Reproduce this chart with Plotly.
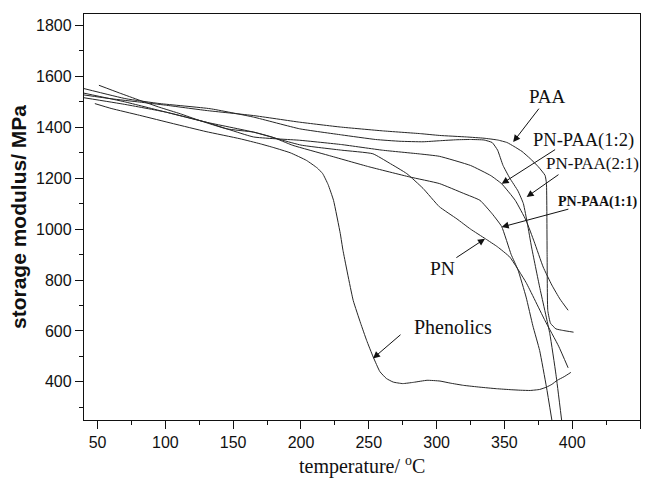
import plotly.graph_objects as go

# ---- data ----
paa_t = [40, 60, 81, 100, 130, 165, 199, 229, 260, 288, 302, 322, 335, 345, 352, 357, 363, 369, 375, 380, 381, 381.5, 382, 384, 388, 393, 401]
paa_e = [1527, 1512, 1499, 1487, 1466, 1446, 1420, 1401, 1386, 1375, 1368, 1362, 1357, 1350, 1340, 1325, 1305, 1277, 1245, 1211, 1180, 900, 680, 630, 608, 602, 595]

pn_paa_21_t = [40, 71, 96, 133, 165, 199, 230, 255, 273, 290, 302, 315, 325, 335, 341, 345, 349, 354, 360, 364, 367, 370, 376, 383.5, 388, 392.2]
pn_paa_21_e = [1552, 1512, 1493, 1473, 1440, 1394, 1370, 1352, 1345, 1343, 1347, 1351, 1352, 1350, 1340, 1310, 1250, 1200, 1150, 1100, 1020, 930, 772, 589, 430, 250]

pn_paa_12_t = [40, 70, 100, 130, 165, 199, 230, 260, 288, 302, 325, 340, 348, 358, 366, 372, 378.6, 385, 391, 397]
pn_paa_12_e = [1516, 1490, 1460, 1420, 1362, 1349, 1332, 1310, 1295, 1286, 1250, 1210, 1178, 1113, 1034, 950, 851, 780, 725, 681]

pn_paa_11_t = [51, 66, 81, 96, 111, 125, 145, 165, 179, 194, 220, 250, 280, 302, 320, 332, 341, 348, 355, 360, 366, 371, 376, 381, 385]
pn_paa_11_e = [1565, 1535, 1506, 1478, 1453, 1427, 1394, 1381, 1361, 1329, 1290, 1245, 1205, 1179, 1140, 1113, 1060, 1010, 900, 840, 733, 620, 523, 380, 250]

pn_t = [40, 70, 100, 130, 165, 200, 230, 253, 265, 278, 290, 302, 315, 325, 336, 345, 354, 366, 380, 390, 397]
pn_e = [1534, 1500, 1460, 1420, 1381, 1330, 1310, 1296, 1260, 1218, 1160, 1088, 1040, 1000, 962, 930, 890, 790, 640, 540, 455]

phen_t = [48, 60, 81, 106, 130, 155, 170, 180, 192, 204, 212, 216, 220, 224, 229, 231, 238.5, 244, 248.4, 253.3, 258.2, 263, 268, 275, 283, 293, 302.5, 310, 320, 332, 344, 355, 362, 369, 376, 381, 385, 389, 394, 399]
phen_e = [1493, 1474, 1447, 1414, 1383, 1355, 1335, 1320, 1300, 1270, 1240, 1218, 1175, 1113, 982, 916, 720, 630, 563, 497, 440, 413, 399, 393, 398, 406, 403, 395, 386, 379, 373, 369, 367, 366, 370, 379, 390, 406, 420, 437]

x_ticks = [50, 100, 150, 200, 250, 300, 350, 400, 450]
y_ticks = [400, 600, 800, 1000, 1200, 1400, 1600, 1800]

series = [
    (paa_t, paa_e), (pn_paa_21_t, pn_paa_21_e), (pn_paa_12_t, pn_paa_12_e),
    (pn_paa_11_t, pn_paa_11_e), (pn_t, pn_e), (phen_t, phen_e),
]

fig = go.Figure()
for t, e in series:
    fig.add_trace(go.Scatter(x=t, y=e, mode="lines",
                             line=dict(color="#262626", width=1, shape="spline", smoothing=0.4),
                             showlegend=False, hoverinfo="skip"))

serif = "Liberation Serif, Times New Roman, serif"
sans = "Liberation Sans, Arial, sans-serif"

# arrows: (tip_x, tip_y, tail_x, tail_y)
arrows = [
    (356.5, 1342, 376.3, 1479),
    (348, 1178, 388.5, 1316),
    (366.4, 1126, 391, 1218),
    (348, 1008, 398.3, 1080),
    (335.7, 962, 313.5, 884),
    (253.1, 492, 274.5, 590),
]
for tx, ty, ax, ay in arrows:
    fig.add_annotation(x=tx, y=ty, ax=ax, ay=ay, xref="x", yref="y", axref="x", ayref="y",
                       text="", showarrow=True, arrowhead=2, arrowsize=1.4, arrowwidth=1,
                       arrowcolor="#111", standoff=0, startstandoff=0)

labels = [
    ("PAA", 382.1, 1521, 19),
    ("PN-PAA(1:2)", 408.7, 1348, 18.5),
    ("PN-PAA(2:1)", 415.3, 1256, 17),
    ("<b>PN-PAA(1:1)</b>", 419, 1105, 14),
    ("PN", 304, 845, 19.5),
    ("Phenolics", 312, 614, 20),
]
for txt, x, y, sz in labels:
    fig.add_annotation(x=x, y=y, xref="x", yref="y", text=txt, showarrow=False,
                       xanchor="center", yanchor="middle",
                       font=dict(family=serif, size=sz, color="#111"))

fig.add_annotation(x=0.5, y=-0.113, xref="paper", yref="paper", xanchor="center", yanchor="middle",
                   text="temperature/ <sup>o</sup>C", showarrow=False,
                   font=dict(family=serif, size=20, color="#111"))
fig.add_annotation(x=-0.1187, y=0.5, xref="paper", yref="paper", xanchor="center", yanchor="middle",
                   textangle=-90, text="<b>storage modulus/ MPa</b>", showarrow=False,
                   font=dict(family=sans, size=21, color="#111"))

fig.update_layout(
    width=652, height=487,
    margin=dict(l=84, r=12, t=14, b=67),
    paper_bgcolor="white", plot_bgcolor="white",
    xaxis=dict(range=[40, 450], tickvals=x_ticks, ticks="outside", ticklen=8, tickwidth=1,
               tickcolor="#111", showline=True, linecolor="#111", linewidth=1.3, mirror=True,
               showgrid=False, zeroline=False,
               tickfont=dict(family=sans, size=16, color="#111"),
               minor=dict(dtick=25, tick0=25, ticks="outside", ticklen=4, tickcolor="#111")),
    yaxis=dict(range=[250, 1845], tickvals=y_ticks, ticks="outside", ticklen=8, tickwidth=1,
               tickcolor="#111", showline=True, linecolor="#111", linewidth=1.3, mirror=True,
               showgrid=False, zeroline=False,
               tickfont=dict(family=sans, size=16, color="#111"),
               minor=dict(dtick=100, tick0=300, ticks="outside", ticklen=4, tickcolor="#111")),
)

fig.write_html("out.html")
